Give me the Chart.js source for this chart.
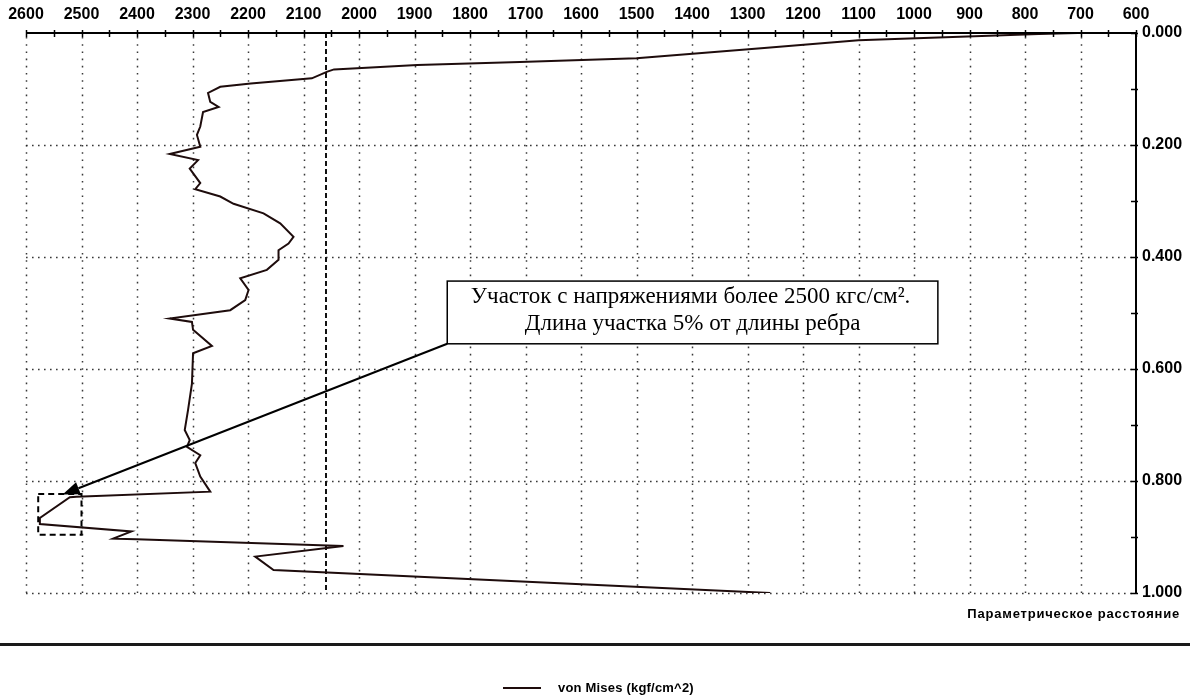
<!DOCTYPE html>
<html>
<head>
<meta charset="utf-8">
<script src="https://cdn.jsdelivr.net/npm/chart.js@4/dist/chart.umd.min.js"></script>
<style>
  html, body { margin: 0; padding: 0; background: #fff; }
  #wrap { width: 1190px; height: 698px; }
</style>
</head>
<body>
<div id="wrap"><canvas id="c" width="1190" height="698"></canvas></div>
<script>
// von Mises stress along the rib (kgf/cm^2) against parametric distance
const stressValues = [
  705, 775, 865, 1100, 1270, 1500, 1710, 1895, 2045, 2057,
  2085, 2195, 2250, 2272, 2268, 2253, 2281, 2286, 2292, 2286,
  2341, 2290, 2305, 2286, 2295, 2250, 2226, 2172, 2142, 2118,
  2127, 2145, 2145, 2166, 2214, 2199, 2205, 2232, 2341, 2301,
  2299, 2265, 2299, 2301, 2308, 2314, 2305, 2310, 2286, 2295,
  2286, 2268, 2509, 2521, 2575, 2575, 2410, 2443, 2401, 2028,
  2187, 2154, 1259
];
const paramDistance = [
  0.000, 0.002, 0.005, 0.013, 0.027, 0.045, 0.052, 0.057, 0.065, 0.069,
  0.081, 0.090, 0.096, 0.107, 0.123, 0.132, 0.141, 0.167, 0.182, 0.203,
  0.216, 0.227, 0.242, 0.268, 0.279, 0.292, 0.305, 0.322, 0.340, 0.364,
  0.376, 0.388, 0.405, 0.423, 0.438, 0.459, 0.477, 0.495, 0.510, 0.516,
  0.530, 0.559, 0.572, 0.626, 0.673, 0.709, 0.727, 0.739, 0.754, 0.768,
  0.792, 0.819, 0.828, 0.829, 0.866, 0.877, 0.890, 0.903, 0.904, 0.916,
  0.935, 0.959, 1.000
];

// axis tick labels
const stressTicks = [2600, 2500, 2400, 2300, 2200, 2100, 2000, 1900, 1800, 1700, 1600,
                     1500, 1400, 1300, 1200, 1100, 1000, 900, 800, 700, 600];
const paramTicks = [0.0, 0.2, 0.4, 0.6, 0.8, 1.0];

const seriesName = 'von Mises (kgf/cm^2)';
const axisTitle = 'Параметрическое расстояние';

// reference stress level (dashed vertical line)
const limitStress = [2060];
// zone above 2500 kgf/cm^2: [stress from, stress to], [distance from, distance to]
const zoneStress = [2578, 2500];
const zoneParam = [0.823, 0.896];
// callout: box corners in data units and the arrow tip
const calloutStress = [1841, 957];
const calloutParam = [0.443, 0.555];
const arrowTip = [2534, 0.824];
const calloutLines = [
  'Участок с напряжениями более 2500 кгс/см².',
  'Длина участка 5% от длины ребра'
];

const points = stressValues.map((x, i) => ({ x: x, y: paramDistance[i] }));

const decor = {
  id: 'decor',
  beforeDatasetsDraw(chart) {
    const { ctx, chartArea: a, scales: { x, y } } = chart;
    ctx.save();
    // dotted grid
    ctx.strokeStyle = 'rgba(35,35,35,0.9)';
    ctx.lineWidth = 1.5;
    ctx.setLineDash([1.6, 5.6]);
    stressTicks.forEach(v => {
      if (v === 600) return;
      const px = Math.round(x.getPixelForValue(v)) + 0.5;
      ctx.beginPath(); ctx.moveTo(px, a.top + 4); ctx.lineTo(px, a.bottom); ctx.stroke();
    });
    ctx.setLineDash([1.6, 4.4]);
    paramTicks.forEach(v => {
      if (v === 0) return;
      const py = Math.round(y.getPixelForValue(v)) + 0.5;
      ctx.beginPath(); ctx.moveTo(a.left, py); ctx.lineTo(a.right, py); ctx.stroke();
    });
    // dashed limit line
    ctx.strokeStyle = '#111';
    ctx.lineWidth = 2;
    ctx.setLineDash([5, 3]);
    limitStress.forEach(v => {
      const px = Math.round(x.getPixelForValue(v));
      ctx.beginPath(); ctx.moveTo(px, a.top); ctx.lineTo(px, a.bottom); ctx.stroke();
    });
    ctx.restore();
  },
  afterDatasetsDraw(chart) {
    const { ctx, chartArea: a, scales: { x, y } } = chart;
    ctx.save();
    ctx.setLineDash([]);
    ctx.strokeStyle = '#000';
    // axis lines
    ctx.lineWidth = 2;
    ctx.beginPath(); ctx.moveTo(a.left, a.top); ctx.lineTo(a.right + 1, a.top); ctx.stroke();
    ctx.beginPath(); ctx.moveTo(a.right, a.top); ctx.lineTo(a.right, a.bottom + 1); ctx.stroke();
    // tick marks crossing the axes (majors and midpoints)
    ctx.lineWidth = 1.5;
    for (let i = 0; i < stressTicks.length; i++) {
      const vals = [stressTicks[i]];
      if (i + 1 < stressTicks.length) vals.push((stressTicks[i] + stressTicks[i + 1]) / 2);
      vals.forEach(v => {
        const px = Math.round(x.getPixelForValue(v)) + 0.5;
        ctx.beginPath(); ctx.moveTo(px, a.top - 3); ctx.lineTo(px, a.top + 4); ctx.stroke();
      });
    }
    for (let i = 0; i < paramTicks.length; i++) {
      const vals = [paramTicks[i]];
      if (i + 1 < paramTicks.length) vals.push((paramTicks[i] + paramTicks[i + 1]) / 2);
      vals.forEach(v => {
        const py = Math.round(y.getPixelForValue(v)) + 0.5;
        ctx.beginPath(); ctx.moveTo(a.right - 5, py); ctx.lineTo(a.right + 2, py); ctx.stroke();
      });
    }
    // dashed rectangle around the overstressed zone
    ctx.lineWidth = 2;
    ctx.setLineDash([6, 4]);
    const zx1 = x.getPixelForValue(zoneStress[0]), zx2 = x.getPixelForValue(zoneStress[1]);
    const zy1 = y.getPixelForValue(zoneParam[0]), zy2 = y.getPixelForValue(zoneParam[1]);
    ctx.strokeRect(zx1, zy1, zx2 - zx1, zy2 - zy1);
    ctx.setLineDash([]);
    // callout box
    const bx1 = x.getPixelForValue(calloutStress[0]), bx2 = x.getPixelForValue(calloutStress[1]);
    const by1 = y.getPixelForValue(calloutParam[0]), by2 = y.getPixelForValue(calloutParam[1]);
    ctx.fillStyle = '#fff';
    ctx.fillRect(bx1, by1, bx2 - bx1, by2 - by1);
    ctx.lineWidth = 1.5;
    ctx.strokeRect(bx1, by1, bx2 - bx1, by2 - by1);
    ctx.fillStyle = '#000';
    ctx.font = '23px "Liberation Serif"';
    ctx.textAlign = 'center';
    ctx.textBaseline = 'middle';
    const cx = (bx1 + bx2) / 2, cy = (by1 + by2) / 2;
    ctx.fillText(calloutLines[0], cx - 2, cy - 15);
    ctx.fillText(calloutLines[1], cx, cy + 12);
    // arrow from the box corner to the zone
    const tx = x.getPixelForValue(arrowTip[0]), ty = y.getPixelForValue(arrowTip[1]);
    const ang = Math.atan2(ty - by2, tx - bx1);
    const hl = 17, hw = 6.5;
    const bxp = tx - hl * Math.cos(ang), byp = ty - hl * Math.sin(ang);
    ctx.lineWidth = 2;
    ctx.beginPath(); ctx.moveTo(bx1, by2); ctx.lineTo(bxp, byp); ctx.stroke();
    ctx.beginPath();
    ctx.moveTo(tx, ty);
    ctx.lineTo(bxp + hw * Math.sin(ang), byp - hw * Math.cos(ang));
    ctx.lineTo(bxp - hw * Math.sin(ang), byp + hw * Math.cos(ang));
    ctx.closePath(); ctx.fill();
    // axis title
    ctx.font = 'bold 13px "Liberation Sans"';
    ctx.letterSpacing = '0.8px';
    ctx.textAlign = 'right';
    ctx.fillText(axisTitle, 1180, a.bottom + 21);
    // separator
    ctx.fillStyle = '#1a1a1a';
    ctx.fillRect(0, 643, 1190, 3);
    // legend
    const ds = chart.data.datasets[0];
    ctx.strokeStyle = ds.borderColor;
    ctx.lineWidth = 2;
    ctx.beginPath(); ctx.moveTo(503, 688); ctx.lineTo(541, 688); ctx.stroke();
    ctx.fillStyle = '#000';
    ctx.textAlign = 'left';
    ctx.letterSpacing = '0.2px';
    ctx.fillText(ds.label, 558, 688);
    ctx.restore();
  }
};

new Chart(document.getElementById('c'), {
  type: 'scatter',
  data: {
    datasets: [{
      label: seriesName,
      data: points,
      showLine: true,
      borderColor: '#1e0c0c',
      borderWidth: 2,
      pointRadius: 0,
      tension: 0
    }]
  },
  options: {
    responsive: false,
    animation: false,
    devicePixelRatio: 1,
    layout: { padding: { left: 26, right: 0, top: 0, bottom: 105 } },
    plugins: { legend: { display: false }, tooltip: { enabled: false } },
    scales: {
      x: {
        type: 'linear', position: 'top', min: 600, max: 2600, reverse: true,
        afterBuildTicks: s => { s.ticks = stressTicks.map(v => ({ value: v })); },
        afterFit: s => { s.height = 33; s.paddingLeft = 0; s.paddingRight = 0; },
        grid: { display: false, drawTicks: false },
        border: { display: false },
        ticks: {
          autoSkip: false, maxRotation: 0, padding: 9, color: '#000',
          font: { family: 'Liberation Sans', size: 16, weight: 'bold' },
          callback: v => String(v)
        }
      },
      y: {
        type: 'linear', position: 'right', min: 0, max: 1, reverse: true,
        afterBuildTicks: s => { s.ticks = paramTicks.map(v => ({ value: v })); },
        afterFit: s => { s.width = 54; s.paddingTop = 0; s.paddingBottom = 0; },
        grid: { display: false, drawTicks: false },
        border: { display: false },
        ticks: {
          autoSkip: false, padding: 6, color: '#000',
          font: { family: 'Liberation Sans', size: 16, weight: 'bold' },
          callback: v => Number(v).toFixed(3)
        }
      }
    }
  },
  plugins: [decor]
});
</script>
</body>
</html>
